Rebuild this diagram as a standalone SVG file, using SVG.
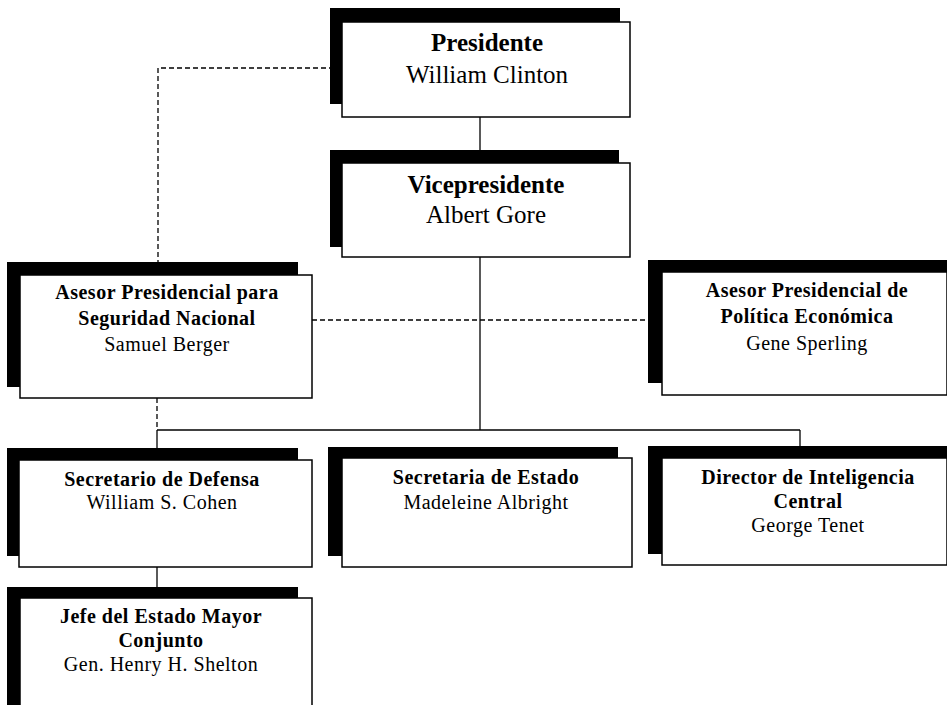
<svg xmlns="http://www.w3.org/2000/svg" width="947" height="705" viewBox="0 0 947 705">
<style>
.sh{fill:#000}
.bx{fill:#fff;stroke:#000;stroke-width:1.5}
.ln{fill:none;stroke:#000;stroke-width:1.3}
.dl{fill:none;stroke:#000;stroke-width:1.3;stroke-dasharray:5 3}
text{font-family:"Liberation Serif","Times New Roman",serif;text-anchor:middle;fill:#000}
.big{font-size:25px}
.sm{font-size:20px;letter-spacing:0.5px}
.b{font-weight:bold}
</style>
<rect width="947" height="705" fill="#fff"/>
<g id="connectors">
<path class="ln" d="M480 117V152"/>
<path class="ln" d="M480 257V430"/>
<path class="ln" d="M157 430H800"/>
<path class="ln" d="M157 430V448"/>
<path class="ln" d="M800 430V446"/>
<path class="ln" d="M157 567V588"/>
<path class="dl" d="M342 68H158V262"/>
<path class="dl" d="M157 398V430"/>
<path class="dl" d="M312 320H648"/>
</g>
<g id="presidente">
<rect class="sh" x="330" y="8" width="290" height="96"/>
<rect class="bx" x="342" y="22" width="288" height="95"/>
<text class="big b" x="487" y="51">Presidente</text>
<text class="big" x="487" y="83">William Clinton</text>
</g>
<g id="vicepresidente">
<rect class="sh" x="330" y="150" width="289" height="97"/>
<rect class="bx" x="342" y="163" width="288" height="94"/>
<text class="big b" x="486" y="193">Vicepresidente</text>
<text class="big" x="486" y="223">Albert Gore</text>
</g>
<g id="asesor-seguridad">
<rect class="sh" x="7" y="262" width="291" height="125"/>
<rect class="bx" x="20" y="275" width="292" height="123"/>
<text class="sm b" x="167" y="299">Asesor Presidencial para</text>
<text class="sm b" x="167" y="325">Seguridad Nacional</text>
<text class="sm" x="167" y="351">Samuel Berger</text>
</g>
<g id="asesor-economica">
<rect class="sh" x="648" y="260" width="299" height="123"/>
<rect class="bx" x="662" y="272" width="285" height="123"/>
<text class="sm b" x="807" y="297">Asesor Presidencial de</text>
<text class="sm b" x="807" y="323">Política Económica</text>
<text class="sm" x="807" y="350">Gene Sperling</text>
</g>
<g id="secretario-defensa">
<rect class="sh" x="7" y="448" width="291" height="108"/>
<rect class="bx" x="19" y="460" width="293" height="107"/>
<text class="sm b" x="162" y="486">Secretario de Defensa</text>
<text class="sm" x="162" y="509">William S. Cohen</text>
</g>
<g id="secretaria-estado">
<rect class="sh" x="328" y="447" width="290" height="109"/>
<rect class="bx" x="342" y="458" width="290" height="109"/>
<text class="sm b" x="486" y="484">Secretaria de Estado</text>
<text class="sm" x="486" y="509">Madeleine Albright</text>
</g>
<g id="director-inteligencia">
<rect class="sh" x="648" y="446" width="299" height="108"/>
<rect class="bx" x="662" y="458" width="285" height="107"/>
<text class="sm b" x="808" y="484">Director de Inteligencia</text>
<text class="sm b" x="808" y="508">Central</text>
<text class="sm" x="808" y="532">George Tenet</text>
</g>
<g id="jefe-estado-mayor">
<rect class="sh" x="7" y="587" width="291" height="130"/>
<rect class="bx" x="20" y="598" width="292" height="130"/>
<text class="sm b" x="161" y="623">Jefe del Estado Mayor</text>
<text class="sm b" x="161" y="647">Conjunto</text>
<text class="sm" x="161" y="671">Gen. Henry H. Shelton</text>
</g>
</svg>
